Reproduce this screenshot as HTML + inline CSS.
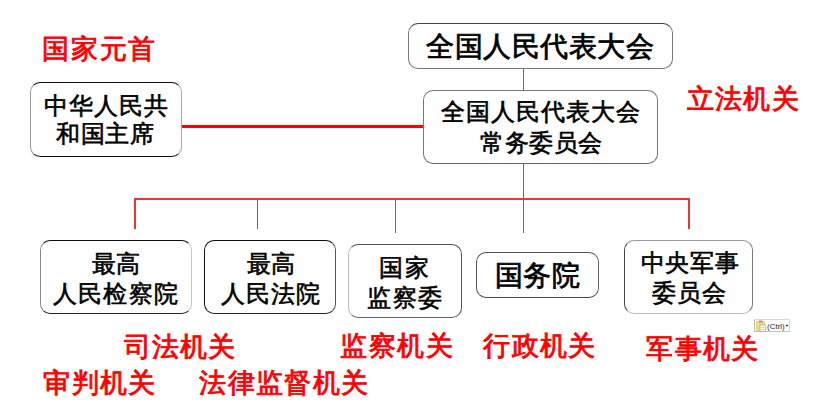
<!DOCTYPE html>
<html><head><meta charset="utf-8">
<style>
html,body{margin:0;padding:0;background:#fff;}
body{width:816px;height:414px;position:relative;overflow:hidden;font-family:"Liberation Sans",sans-serif;}
.t{position:absolute;white-space:nowrap;line-height:1;color:#000;-webkit-text-stroke:0.6px #000;}
.t.big{-webkit-text-stroke:0.75px #000;}
.r{position:absolute;white-space:nowrap;line-height:1;color:#f00;-webkit-text-stroke:0.9px #f00;}
.box{position:absolute;box-sizing:border-box;border:1px solid #1a1a1a;border-left-color:#8a8a8a;border-right-color:#8a8a8a;border-radius:10px;background:#fff;}
.ln{position:absolute;background:#e9363b;}
</style></head><body>
<div class="ln" style="left:182px;top:125px;width:241px;height:3px;background:#f00"></div>
<div class="ln" style="left:523px;top:69px;width:1.4px;height:21px"></div>
<div class="ln" style="left:523px;top:164px;width:1.4px;height:69px"></div>
<div class="ln" style="left:133.5px;top:198px;width:556px;height:2px"></div>
<div class="ln" style="left:133.5px;top:198px;width:2px;height:31px"></div>
<div class="ln" style="left:257px;top:198px;width:1.4px;height:31px"></div>
<div class="ln" style="left:395px;top:198px;width:1.4px;height:35px"></div>
<div class="ln" style="left:688px;top:198px;width:2px;height:31px"></div>
<div class="box" style="left:30px;top:82px;width:152px;height:75px;border-color:#111 #aaa #111 #999"></div>
<div class="box" style="left:408px;top:23px;width:265px;height:46px;border-color:#444 #777 #777 #777"></div>
<div class="box" style="left:423px;top:90px;width:235px;height:74px;border-color:#777 #777 #666 #777"></div>
<div class="box" style="left:40px;top:240px;width:152px;height:74px;border-color:#111 #c4c4c4 #222 #888"></div>
<div class="box" style="left:204px;top:240px;width:132px;height:74px;border-color:#111 #555 #222 #111"></div>
<div class="box" style="left:348px;top:244px;width:114px;height:74px;border-color:#555 #555 #666 #bbb"></div>
<div class="box" style="left:476px;top:252px;width:123px;height:46px;border-color:#555 #666 #444 #555"></div>
<div class="box" style="left:624px;top:240px;width:129px;height:74px;border-color:#999 #777 #bbb #444"></div>
<div style="position:absolute;left:754px;top:319px;width:36px;height:13px;box-sizing:border-box;border:1px solid #d8d8d8;border-left-color:#b8b8b8;border-bottom:1.5px solid #c4c4c4;background:#fff;"></div>
<svg style="position:absolute;left:754px;top:319px" width="37" height="14" viewBox="0 0 37 14">
<rect x="2.5" y="2.5" width="8" height="9.5" fill="#f7dd62" stroke="#d8c27a" stroke-width="0.6"/>
<rect x="5" y="1.5" width="3.5" height="2" fill="#9a9a9a"/>
<rect x="6" y="6" width="5.5" height="6.5" fill="#fafafa" stroke="#9a9a9a" stroke-width="0.6"/>
<path d="M7 8.5h3.5M7 10.5h3.5" stroke="#b0b0b0" stroke-width="0.6"/>
<path d="M31.2 5.8h3.4l-1.7 2z" fill="#333"/>
</svg>
<div style="position:absolute;left:767px;top:321.5px;font-size:8px;line-height:9px;color:#2a2a3a;font-family:"Liberation Sans",sans-serif;letter-spacing:-0.3px">(Ctrl)</div>
<div class="t" style="left:44.46px;top:93.5px;font-size:23.9px;letter-spacing:0.96px">中华人民共</div>
<div class="t" style="left:55.8px;top:122.4px;font-size:23.9px;letter-spacing:0.8px">和国主席</div>
<div class="t big" style="left:426.38px;top:32.9px;font-size:27.9px;letter-spacing:0.5px">全国人民代表大会</div>
<div class="t" style="left:440.7px;top:100.35px;font-size:23.9px;letter-spacing:1.03px">全国人民代表大会</div>
<div class="t" style="left:480.1px;top:131.0px;font-size:23.9px;letter-spacing:0.6px">常务委员会</div>
<div class="t" style="left:91.9px;top:251.65px;font-size:23.9px;letter-spacing:0.0px">最高</div>
<div class="t" style="left:52.84px;top:281.55px;font-size:23.9px;letter-spacing:1.24px">人民检察院</div>
<div class="t" style="left:246.7px;top:251.65px;font-size:23.9px;letter-spacing:0.0px">最高</div>
<div class="t" style="left:220.8px;top:281.55px;font-size:23.9px;letter-spacing:1.07px">人民法院</div>
<div class="t" style="left:379.08px;top:255.95px;font-size:23.9px;letter-spacing:2.0px">国家</div>
<div class="t" style="left:367.0px;top:286.35px;font-size:23.9px;letter-spacing:1.6px">监察委</div>
<div class="t big" style="left:494.56px;top:261.8px;font-size:27.9px;letter-spacing:0.72px">国务院</div>
<div class="t" style="left:640.52px;top:250.6px;font-size:23.9px;letter-spacing:0.7px">中央军事</div>
<div class="t" style="left:651.62px;top:280.9px;font-size:23.9px;letter-spacing:1.04px">委员会</div>
<div class="r" style="left:42.4px;top:35.2px;font-size:27.4px;letter-spacing:1.6px">国家元首</div>
<div class="r" style="left:686.6px;top:85.05px;font-size:27.4px;letter-spacing:1.34px">立法机关</div>
<div class="r" style="left:124.3px;top:332.5px;font-size:27.4px;letter-spacing:0.8px">司法机关</div>
<div class="r" style="left:43.46px;top:369.2px;font-size:27.4px;letter-spacing:1.27px">审判机关</div>
<div class="r" style="left:199.4px;top:369.2px;font-size:27.4px;letter-spacing:1.28px">法律监督机关</div>
<div class="r" style="left:340.08px;top:332.05px;font-size:27.4px;letter-spacing:1.7px">监察机关</div>
<div class="r" style="left:483.4px;top:331.7px;font-size:27.4px;letter-spacing:1.33px">行政机关</div>
<div class="r" style="left:646.3px;top:335.2px;font-size:27.4px;letter-spacing:1.34px">军事机关</div>
</body></html>
